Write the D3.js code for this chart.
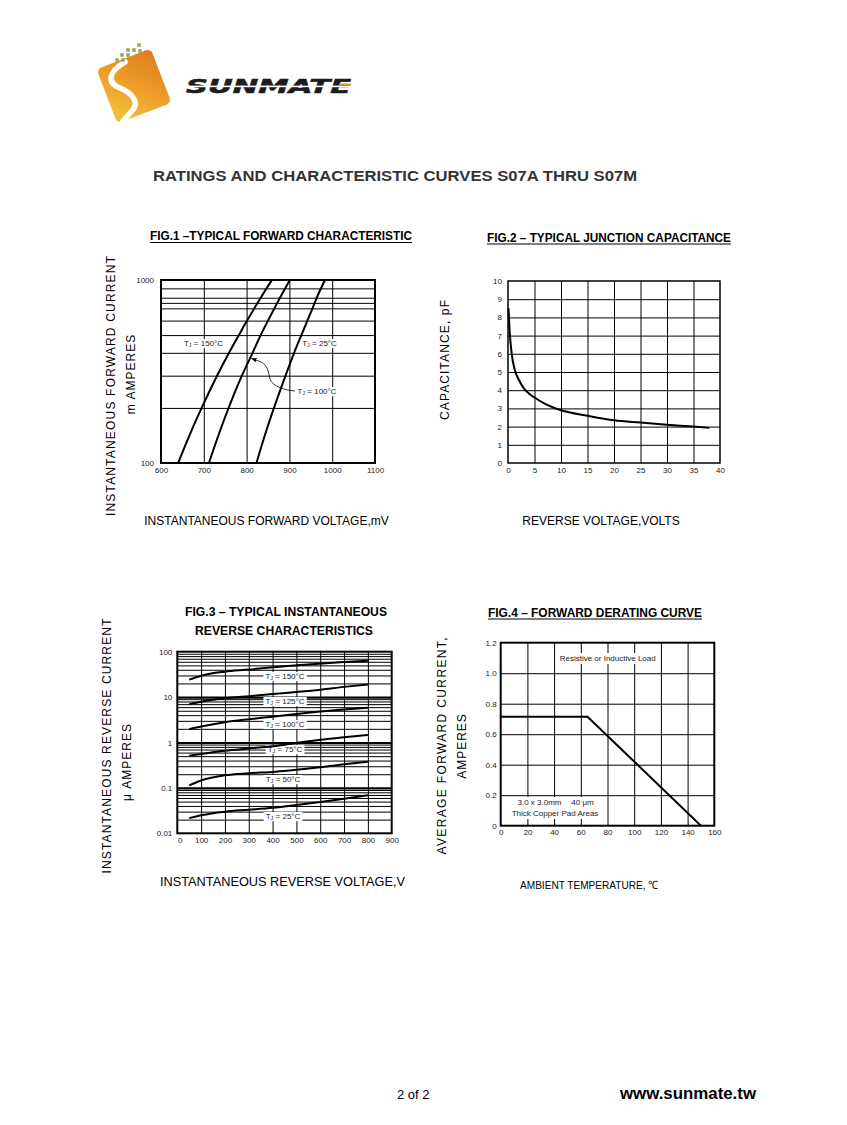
<!DOCTYPE html>
<html>
<head>
<meta charset="utf-8">
<script src="https://cdn.jsdelivr.net/npm/d3@7/dist/d3.min.js"></script>
<style>
body { margin: 0; background: #fff; }
svg { display: block; font-family: "Liberation Sans", Arial, Helvetica, sans-serif; }
</style>
</head>
<body>
<div id="chart"></div>
<script>
// ---- data ----

// fig.1 forward characteristic: current (mA) vs voltage (mV) per junction temp
var fig1Current = [100, 150, 200, 300, 400, 500, 600, 700, 800, 1000];
var fig1V150 = [640, 671, 695, 731, 759, 782, 801, 818, 833, 859];
var fig1V100 = [712, 738, 758, 789, 814, 833, 850, 865, 878, 901];
var fig1V25 = [823, 846, 864, 891, 911, 928, 942, 954, 964, 983];
var fig1XTicks = [600, 700, 800, 900, 1000, 1100];
var fig1YTicks = [100, 1000];
var fig1YGrid = [200, 300, 400, 500, 600, 700, 750, 800, 900];

// fig.2 junction capacitance
var fig2Volts = [0.1, 0.3, 0.7, 1.3, 2, 3, 4, 5, 7, 10, 15, 20, 25, 30, 35, 38];
var fig2Cap = [8.5, 7.3, 6.0, 5.1, 4.6, 4.1, 3.8, 3.6, 3.25, 2.9, 2.6, 2.35, 2.22, 2.1, 2.0, 1.93];
var fig2XTicks = [0, 5, 10, 15, 20, 25, 30, 35, 40];
var fig2YTicks = [0, 1, 2, 3, 4, 5, 6, 7, 8, 9, 10];

// fig.3 reverse characteristics: current (uA) vs reverse voltage (V)
var fig3Volts = [50, 100, 200, 300, 400, 500, 600, 700, 800];
var fig3I150 = [24.2, 29.6, 36.3, 40.3, 45.6, 50.2, 54.6, 59.2, 63.3];
var fig3I125 = [7.0, 7.9, 9.4, 10.5, 11.7, 13.0, 14.6, 16.8, 19.0];
var fig3I100 = [1.97, 2.25, 2.8, 3.25, 3.7, 4.25, 4.8, 5.35, 5.85];
var fig3I75 = [0.51, 0.56, 0.66, 0.74, 0.83, 0.98, 1.15, 1.3, 1.46];
var fig3I50 = [0.114, 0.146, 0.19, 0.21, 0.225, 0.25, 0.285, 0.33, 0.378];
var fig3I25 = [0.0216, 0.025, 0.03, 0.033, 0.0365, 0.042, 0.049, 0.058, 0.069];
var fig3XTicks = [0, 100, 200, 300, 400, 500, 600, 700, 800, 900];
var fig3YTicks = [0.01, 0.1, 1, 10, 100];
var fig3Decades = [0.1, 1, 10];

// fig.4 derating
var fig4Temp = [0, 65, 150];
var fig4Amps = [0.715, 0.715, 0];
var fig4XTicks = [0, 20, 40, 60, 80, 100, 120, 140, 160];
var fig4YTicks = [0, 0.2, 0.4, 0.6, 0.8, 1.0, 1.2];

var svg = d3.select("#chart").append("svg")
    .attr("width", 847)
    .attr("height", 1125);

svg.append("rect").attr("width", 847).attr("height", 1125).attr("fill", "#fff");

var defs = svg.append("defs");
defs.append("marker")
    .attr("id", "arrow")
    .attr("viewBox", "0 0 10 10")
    .attr("refX", 9).attr("refY", 5)
    .attr("markerWidth", 7).attr("markerHeight", 7)
    .attr("orient", "auto")
    .append("path").attr("d", "M0,1 L10,5 L0,9 z").attr("fill", "#000");

var grad = defs.append("linearGradient").attr("id", "logoGrad")
    .attr("x1", 0).attr("y1", 1).attr("x2", 1).attr("y2", 0);
grad.append("stop").attr("offset", 0).attr("stop-color", "#f5c43c");
grad.append("stop").attr("offset", 0.55).attr("stop-color", "#eb9a28");
grad.append("stop").attr("offset", 1).attr("stop-color", "#e07a1e");

// ---- logo ----
var logo = svg.append("g");
logo.append("rect")
    .attr("x", -29).attr("y", -29).attr("width", 58).attr("height", 58)
    .attr("rx", 5)
    .attr("fill", "url(#logoGrad)")
    .attr("transform", "translate(134,86) rotate(-21)");
logo.append("path")
    .attr("d", "M125,62 C110,71 105,82 120,88 C134,94 140,104 131,112 L123,121")
    .attr("fill", "none").attr("stroke", "#fff").attr("stroke-width", 5.5)
    .attr("stroke-linecap", "round");
var dots = [[139, 45], [128, 50], [134, 50], [140, 51], [122, 55], [128, 55], [117, 60], [123, 60]];
logo.selectAll(".dot").data(dots).enter().append("rect")
    .attr("class", "dot")
    .attr("x", function(d) { return d[0] - 1.8; })
    .attr("y", function(d) { return d[1] - 1.8; })
    .attr("width", 3.6).attr("height", 3.6)
    .attr("fill", "#9aa868");
logo.append("text")
    .attr("x", 186).attr("y", 93)
    .attr("font-family", "DejaVu Sans")
    .attr("font-weight", "bold")
    .attr("font-style", "italic")
    .attr("font-size", 19)
    .attr("textLength", 165)
    .attr("lengthAdjust", "spacingAndGlyphs")
    .attr("fill", "#1c1c1c")
    .attr("stroke", "#1c1c1c").attr("stroke-width", 0.6)
    .text("SUNMATE");
logo.append("rect").attr("x", 183).attr("y", 85.6).attr("width", 170).attr("height", 1.6).attr("fill", "#fff");
logo.append("rect").attr("x", 339).attr("y", 83.5).attr("width", 12).attr("height", 2.2).attr("fill", "#e8902a");

// ---- headings ----
svg.append("text")
    .attr("x", 153).attr("y", 181)
    .attr("font-size", 14.5).attr("font-weight", "bold")
    .attr("fill", "#333")
    .attr("textLength", 484).attr("lengthAdjust", "spacingAndGlyphs")
    .text("RATINGS AND CHARACTERISTIC CURVES S07A THRU S07M");

function title(txt, x, y, len, underline) {
    svg.append("text")
        .attr("x", x).attr("y", y)
        .attr("font-size", 12).attr("font-weight", "bold")
        .attr("textLength", len).attr("lengthAdjust", "spacingAndGlyphs")
        .text(txt);
    if (underline) {
        svg.append("line")
            .attr("x1", x).attr("x2", x + len)
            .attr("y1", y + 2.5).attr("y2", y + 2.5)
            .attr("stroke", "#000").attr("stroke-width", 1);
    }
}
title("FIG.1 \u2013TYPICAL FORWARD CHARACTERISTIC", 150, 240, 262, true);
title("FIG.2 \u2013 TYPICAL JUNCTION CAPACITANCE", 487, 241.5, 244, true);
title("FIG.3 \u2013 TYPICAL INSTANTANEOUS", 185, 616, 202, false);
title("REVERSE CHARACTERISTICS", 195, 634.5, 178, false);
title("FIG.4 \u2013 FORWARD DERATING CURVE", 488, 616.5, 214, true);

// rotated axis title, (gx, gy) = centre of the glyphs
function yTitle(txt, gx, gy, len) {
    var t = svg.append("text")
        .attr("transform", "translate(" + (gx + 4.3) + "," + gy + ") rotate(-90)")
        .attr("text-anchor", "middle")
        .attr("font-size", 12)
        .attr("letter-spacing", 1)
        .text(txt);
    if (len) t.attr("letter-spacing", null).attr("textLength", len).attr("lengthAdjust", "spacing");
}
function xTitle(txt, cx, y, len, fs) {
    var t = svg.append("text")
        .attr("x", cx).attr("y", y)
        .attr("text-anchor", "middle")
        .attr("font-size", fs || 12)
        .text(txt);
    if (len) t.attr("textLength", len).attr("lengthAdjust", "spacingAndGlyphs");
}

yTitle("INSTANTANEOUS FORWARD CURRENT", 111, 386, 260);
yTitle("m AMPERES", 131, 374);
xTitle("INSTANTANEOUS FORWARD VOLTAGE,mV", 266.5, 525);

yTitle("CAPACITANCE, pF", 445, 360, 120);
xTitle("REVERSE VOLTAGE,VOLTS", 601, 525);

yTitle("INSTANTANEOUS REVERSE CURRENT", 106.5, 746, 255);
yTitle("\u03bc AMPERES", 127, 762);
xTitle("INSTANTANEOUS REVERSE VOLTAGE,V", 282.5, 886, 245);

yTitle("AVERAGE FORWARD CURRENT,", 441.5, 746, 217);
yTitle("AMPERES", 462, 746);
xTitle("AMBIENT TEMPERATURE, \u2103", 589, 888.5, 138, 11.5);

// ---- frames ----
function drawFrame(p) {
    var g = svg.append("g");
    var xr = p.x.range(), yr = p.y.range();
    var h = yr[0] - yr[1], w = xr[1] - xr[0];

    g.append("g").attr("class", "grid")
        .attr("transform", "translate(0," + yr[0] + ")")
        .call(d3.axisBottom(p.x).tickValues(p.xGrid).tickSize(-h).tickFormat(""));
    g.append("g").attr("class", "grid")
        .attr("transform", "translate(" + xr[0] + ",0)")
        .call(d3.axisLeft(p.y).tickValues(p.yGrid).tickSize(-w).tickFormat(""));
    g.selectAll(".grid .domain").remove();
    g.selectAll(".grid .tick line").attr("stroke", "#000").attr("stroke-width", 1);

    var xl = g.append("g")
        .attr("transform", "translate(0," + yr[0] + ")")
        .call(d3.axisBottom(p.x).tickValues(p.xTicks).tickSize(0).tickPadding(p.xPad).tickFormat(p.xFmt || String));
    var yl = g.append("g")
        .attr("transform", "translate(" + xr[0] + ",0)")
        .call(d3.axisLeft(p.y).tickValues(p.yTicks).tickSize(0).tickPadding(p.yPad).tickFormat(p.yFmt || String));
    [xl, yl].forEach(function(a) {
        a.select(".domain").remove();
        a.attr("font-size", 8).attr("font-family", null);
        a.selectAll("text").attr("fill", "#222");
    });
    p.g = g;
    p.xl = xl;
    return g;
}

function drawBorder(p, sw) {
    var xr = p.x.range(), yr = p.y.range();
    p.g.append("rect")
        .attr("x", xr[0]).attr("y", yr[1])
        .attr("width", xr[1] - xr[0]).attr("height", yr[0] - yr[1])
        .attr("fill", "none").attr("stroke", "#000").attr("stroke-width", sw);
}

function drawCurve(p, pts, curve) {
    var line = d3.line()
        .x(function(d) { return p.x(d[0]); })
        .y(function(d) { return p.y(d[1]); })
        .curve(curve);
    p.g.append("path")
        .attr("d", line(pts))
        .attr("fill", "none")
        .attr("stroke", "#000")
        .attr("stroke-width", 2)
        .attr("stroke-linejoin", "round");
}

// "TJ = xx°C" label on a white patch
function tjLabel(p, cx, y, temp) {
    var t = p.g.append("text")
        .attr("x", cx).attr("y", y)
        .attr("text-anchor", "middle")
        .attr("font-size", 8)
        .attr("fill", "#222");
    t.append("tspan").text("T");
    t.append("tspan").attr("font-size", 5.5).attr("dy", 1.2).text("J");
    t.append("tspan").attr("dy", -1.2).text(" = " + temp);
    var b = t.node().getBBox();
    p.g.insert("rect", function() { return t.node(); })
        .attr("x", b.x - 2).attr("y", b.y)
        .attr("width", b.width + 4).attr("height", b.height)
        .attr("fill", "#fff");
}

function noteLabel(p, lines) {
    var ts = lines.map(function(l) {
        return p.g.append("text")
            .attr("x", l[0]).attr("y", l[1])
            .attr("text-anchor", "middle")
            .attr("font-size", 8)
            .attr("fill", "#222")
            .text(l[2]);
    });
    var x0 = 1e9, y0 = 1e9, x1 = -1e9, y1 = -1e9;
    ts.forEach(function(t) {
        var b = t.node().getBBox();
        x0 = Math.min(x0, b.x); y0 = Math.min(y0, b.y);
        x1 = Math.max(x1, b.x + b.width); y1 = Math.max(y1, b.y + b.height);
    });
    p.g.insert("rect", function() { return ts[0].node(); })
        .attr("x", x0 - 3).attr("y", y0 - 1)
        .attr("width", x1 - x0 + 6).attr("height", y1 - y0 + 2)
        .attr("fill", "#fff");
}

// FIG.1
var p1 = {
    x: d3.scaleLinear().domain([600, 1100]).range([161, 375]),
    y: d3.scaleLog().domain([100, 1000]).range([463, 280]),
    xGrid: fig1XTicks.slice(1, -1),
    yGrid: fig1YGrid,
    xTicks: fig1XTicks, yTicks: fig1YTicks,
    xPad: 4.3, yPad: 7
};
drawFrame(p1);
tjLabel(p1, 203.5, 346, "150\u00b0C");
tjLabel(p1, 319.5, 346, "25\u00b0C");
tjLabel(p1, 317, 394, "100\u00b0C");
var tip = [p1.x(808), p1.y(375)];
p1.g.append("path")
    .attr("d", "M295,391 C285,390 273,387 270,379 C268,371 268,366 261,362 L" + (tip[0] + 1.5) + "," + (tip[1] + 0.5))
    .attr("fill", "none").attr("stroke", "#000").attr("stroke-width", 0.8)
    .attr("marker-end", "url(#arrow)");
drawCurve(p1, fig1Current.map(function(c, i) { return [fig1V150[i], c]; }), d3.curveMonotoneY);
drawCurve(p1, fig1Current.map(function(c, i) { return [fig1V100[i], c]; }), d3.curveMonotoneY);
drawCurve(p1, fig1Current.map(function(c, i) { return [fig1V25[i], c]; }), d3.curveMonotoneY);
drawBorder(p1, 2);

// FIG.2
var p2 = {
    x: d3.scaleLinear().domain([0, 40]).range([508, 720]),
    y: d3.scaleLinear().domain([0, 10]).range([463, 281]),
    xGrid: fig2XTicks.slice(1, -1),
    yGrid: fig2YTicks.slice(1, -1),
    xTicks: fig2XTicks, yTicks: fig2YTicks,
    xPad: 4.3, yPad: 6
};
drawFrame(p2);
drawCurve(p2, fig2Volts.map(function(v, i) { return [v, fig2Cap[i]]; }), d3.curveMonotoneX);
drawBorder(p2, 1.5);

// FIG.3
var y3 = d3.scaleLog().domain([0.01, 100]).range([833.3, 651.7]);
var p3 = {
    x: d3.scaleLinear().domain([0, 900]).range([177.3, 391.7]),
    y: y3,
    xGrid: fig3XTicks.slice(1, -1),
    yGrid: y3.ticks().filter(function(v) { return v > 0.01 && v < 100; }),
    xTicks: fig3XTicks, yTicks: fig3YTicks,
    xPad: 4, yPad: 5
};
drawFrame(p3);
p3.g.selectAll(".grid .tick line")
    .filter(function(d) { return fig3Decades.indexOf(d) >= 0; })
    .attr("stroke-width", 2.2);
p3.xl.selectAll(".tick text").filter(function(d) { return d === 0; }).attr("dx", 2.5);
tjLabel(p3, 285, 679, "150\u00b0C");
tjLabel(p3, 285, 704, "125\u00b0C");
tjLabel(p3, 285, 727, "100\u00b0C");
tjLabel(p3, 285, 752, "75\u00b0C");
tjLabel(p3, 283, 782, "50\u00b0C");
tjLabel(p3, 283, 819, "25\u00b0C");
[fig3I150, fig3I125, fig3I100, fig3I75, fig3I50, fig3I25].forEach(function(s) {
    drawCurve(p3, fig3Volts.map(function(v, i) { return [v, s[i]]; }), d3.curveMonotoneX);
});
drawBorder(p3, 2);

// FIG.4
var p4 = {
    x: d3.scaleLinear().domain([0, 160]).range([500.7, 714.3]),
    y: d3.scaleLinear().domain([0, 1.2]).range([825.7, 642.7]),
    xGrid: fig4XTicks.slice(1, -1),
    yGrid: fig4YTicks.slice(1, -1),
    xTicks: fig4XTicks, yTicks: fig4YTicks,
    xPad: 3.6, yPad: 4,
    yFmt: function(d) { return d === 0 ? "0" : d.toFixed(1); }
};
drawFrame(p4);
noteLabel(p4, [[607.7, 661, "Resistive or Inductive Load"]]);
noteLabel(p4, [[539.5, 805, "3.0 x 3.0mm"], [582.5, 805, "40 \u03bcm"], [555, 816, "Thick Copper Pad Areas"]]);
drawCurve(p4, fig4Temp.map(function(t, i) { return [t, fig4Amps[i]]; }), d3.curveLinear);
drawBorder(p4, 2);

// ---- footer ----
svg.append("text")
    .attr("x", 397).attr("y", 1098.5)
    .attr("font-size", 13)
    .text("2 of 2");
svg.append("text")
    .attr("x", 620).attr("y", 1099)
    .attr("font-size", 16).attr("font-weight", "bold")
    .attr("textLength", 136).attr("lengthAdjust", "spacingAndGlyphs")
    .text("www.sunmate.tw");
</script>
</body>
</html>
